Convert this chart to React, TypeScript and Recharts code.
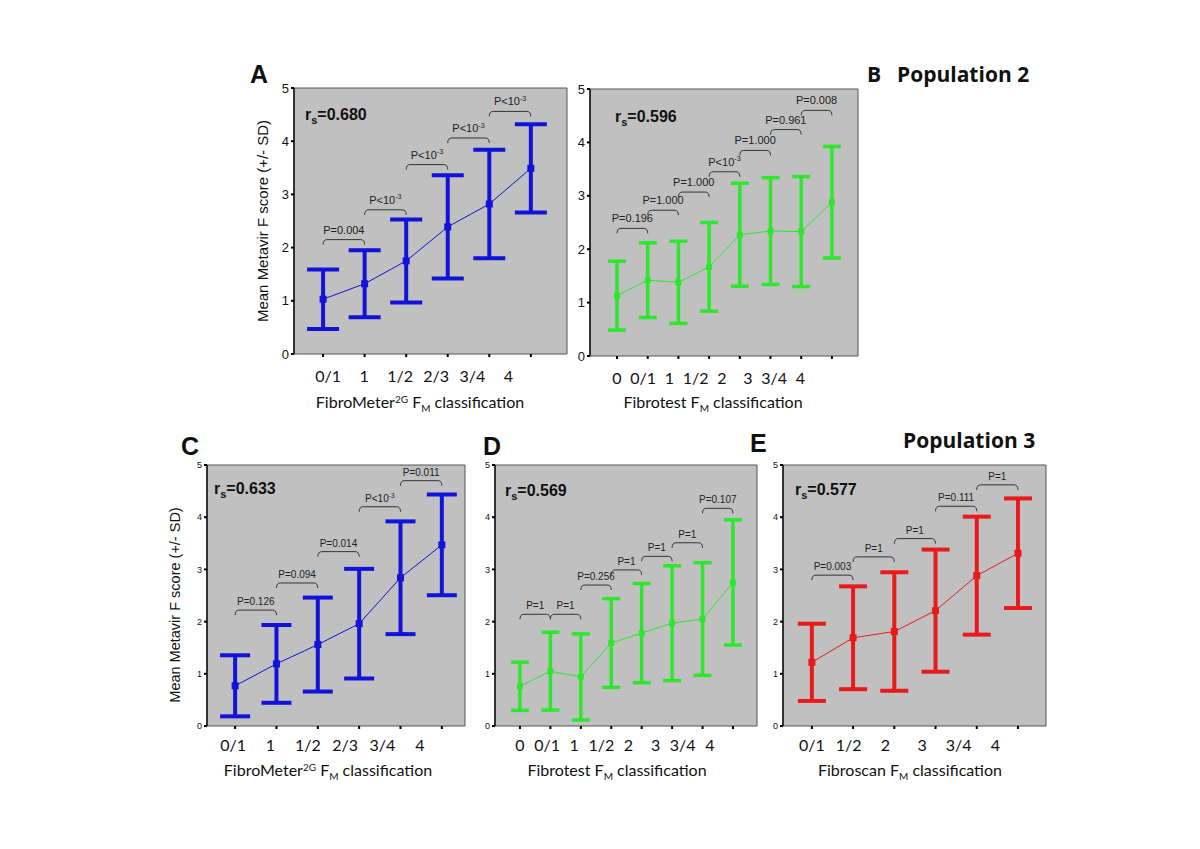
import React from 'react';
import { ComposedChart, Line, ErrorBar, XAxis, YAxis, CartesianGrid, ReferenceArea, ReferenceLine } from 'recharts';

// Population 2 - A: FibroMeter2G
const catsA = ['0/1', '1', '1/2', '2/3', '3/4', '4'];
const meanA = [1.03, 1.32, 1.75, 2.39, 2.82, 3.49];
const sdA = [0.56, 0.63, 0.78, 0.97, 1.02, 0.83];
const bracketA = [2.15, 2.71, 3.56, 4.06, 4.56];
const pA = ['P=0.004', 'P<10^-3', 'P<10^-3', 'P<10^-3', 'P<10^-3'];

// Population 2 - B: Fibrotest
const catsB = ['0', '0/1', '1', '1/2', '2', '3', '3/4', '4'];
const meanB = [1.13, 1.42, 1.38, 1.67, 2.27, 2.34, 2.33, 2.88];
const sdB = [0.645, 0.7, 0.77, 0.83, 0.965, 1.0, 1.03, 1.045];
const bracketB = [2.39, 2.73, 3.07, 3.45, 3.85, 4.24, 4.6];
const pB = ['P=0.196', 'P=1.000', 'P=1.000', 'P<10^-3', 'P=1.000', 'P=0.961', 'P=0.008'];

// Population 3 - C: FibroMeter2G
const catsC = ['0/1', '1', '1/2', '2/3', '3/4', '4'];
const meanC = [0.77, 1.19, 1.56, 1.96, 2.84, 3.47];
const sdC = [0.585, 0.745, 0.9, 1.05, 1.08, 0.965];
const bracketC = [2.22, 2.74, 3.34, 4.2, 4.7];
const pC = ['P=0.126', 'P=0.094', 'P=0.014', 'P<10^-3', 'P=0.011'];

// Population 3 - D: Fibrotest
const catsD = ['0', '0/1', '1', '1/2', '2', '3', '3/4', '4'];
const meanD = [0.76, 1.05, 0.94, 1.59, 1.78, 1.97, 2.05, 2.75];
const sdD = [0.46, 0.745, 0.825, 0.85, 0.95, 1.1, 1.08, 1.2];
const bracketD = [2.14, 2.14, 2.7, 2.99, 3.25, 3.51, 4.17];
const pD = ['P=1', 'P=1', 'P=0.256', 'P=1', 'P=1', 'P=1', 'P=0.107'];

// Population 3 - E: Fibroscan
const catsE = ['0/1', '1/2', '2', '3', '3/4', '4'];
const meanE = [1.22, 1.69, 1.81, 2.21, 2.88, 3.31];
const sdE = [0.74, 0.985, 1.135, 1.17, 1.13, 1.05];
const bracketE = [2.89, 3.24, 3.59, 4.21, 4.62];
const pE = ['P=0.003', 'P=1', 'P=1', 'P=0.111', 'P=1'];

const yTicks = [0, 1, 2, 3, 4, 5];

const BLUE = '#1212d8';
const GREEN = '#2ee62e';
const RED = '#e81a1a';
const ARIAL = '"Liberation Sans", Arial, sans-serif';
const CAL = 'Lato, "Open Sans", sans-serif';
const HEAD = '"Open Sans", Lato, sans-serif';

function PText({ x, y, text, size }: any) {
  const k = text.indexOf('^');
  if (k < 0) {
    return (
      <text x={x} y={y} textAnchor="middle" fontFamily={ARIAL} fontSize={size} fill="#222">
        {text}
      </text>
    );
  }
  return (
    <text x={x} y={y} textAnchor="middle" fontFamily={ARIAL} fontSize={size} fill="#222">
      <tspan>{text.slice(0, k)}</tspan>
      <tspan dy={-size * 0.4} fontSize={size * 0.65}>{text.slice(k + 1)}</tspan>
    </text>
  );
}

const bracketShape = (label: string, size: number, gap: number) => (props: any) => {
  const { x1, y1, x2 } = props;
  const h = 5;
  return (
    <g>
      <path
        d={`M${x1},${y1 + h} Q${x1},${y1} ${x1 + 4},${y1} L${x2 - 4},${y1} Q${x2},${y1} ${x2},${y1 + h}`}
        fill="none"
        stroke="#333"
        strokeWidth={1}
      />
      <PText x={(x1 + x2) / 2} y={y1 - gap} text={label} size={size} />
    </g>
  );
};

function Panel(props: any) {
  const { plot, domain, cats, means, sds, brackets, ps, color, capW, barW, markerSize, tickFont, yFont, tickDy, lblBase, lblStep, pFont, pGap } = props;
  const padL = 60, padT = 30, padR = 20, padB = 70;
  const w = plot.r - plot.l + padL + padR;
  const h = plot.b - plot.t + padT + padB;
  const data = cats.map((c: string, i: number) => ({ idx: i, mean: means[i], sd: sds[i] }));
  const ms = markerSize;

  const xTick = (tp: any) => {
    const i = tp.payload.value;
    return (
      <text x={tp.x + lblBase - i * lblStep} y={tp.y + tickDy} textAnchor="middle" fontFamily={CAL} fontSize={tickFont} fill="#111">
        {cats[i]}
      </text>
    );
  };

  return (
    <div style={{ position: 'absolute', left: plot.l - padL, top: plot.t - padT }}>
      <ComposedChart width={w} height={h} data={data} margin={{ top: padT, right: padR, left: padL - 30, bottom: padB - 30 }}>
        <CartesianGrid fill="#c0c0c0" fillOpacity={1} horizontal={false} vertical={false} />
        <XAxis
          type="number"
          dataKey="idx"
          domain={domain}
          ticks={cats.map((_: string, i: number) => i)}
          interval={0}
          allowDataOverflow
          height={30}
          axisLine={false}
          tickLine={{ stroke: '#000', strokeWidth: 2 }}
          tickSize={3}
          tick={xTick}
        />
        <YAxis
          type="number"
          domain={[0, 5]}
          ticks={yTicks}
          allowDataOverflow
          width={30}
          axisLine={{ stroke: '#111', strokeWidth: 1.5 }}
          tickLine={{ stroke: '#000', strokeWidth: 2 }}
          tickSize={3}
          tickMargin={2}
          tick={{ fontFamily: ARIAL, fontSize: yFont, fill: '#111' }}
        />
        <ReferenceArea x1={domain[0]} x2={domain[1]} y1={0} y2={5} fill="none" stroke="#555" strokeWidth={1} ifOverflow="visible" />
        {brackets.map((y: number, i: number) => (
          <ReferenceLine key={i} segment={[{ x: i, y }, { x: i + 1, y }]} ifOverflow="visible" shape={bracketShape(ps[i], pFont, pGap)} />
        ))}
        <Line
          dataKey="mean"
          stroke={color}
          strokeWidth={1}
          isAnimationActive={false}
          dot={(d: any) => <rect key={d.index} x={d.cx - ms / 2} y={d.cy - ms / 2} width={ms} height={ms} fill={color} />}
        >
          <ErrorBar dataKey="sd" direction="y" width={capW} strokeWidth={barW} stroke={color} />
        </Line>
      </ComposedChart>
    </div>
  );
}

function Rs({ x, y, v }: any) {
  return (
    <text x={x} y={y} fontFamily={ARIAL} fontWeight="bold" fontSize={16} fill="#111">
      <tspan>r</tspan>
      <tspan dy={4} fontSize={11}>s</tspan>
      <tspan dy={-4}>{v}</tspan>
    </text>
  );
}

function XTitle({ x, y, name, sup }: any) {
  return (
    <text x={x} y={y} textAnchor="middle" fontFamily={CAL} fontSize={16} fill="#111">
      <tspan>{name}</tspan>
      {sup ? <tspan dy={-5} fontSize={10}>{sup}</tspan> : null}
      <tspan dy={sup ? 5 : 0}> F</tspan>
      <tspan dy={4} fontSize={10}>M</tspan>
      <tspan dy={-4}> classification</tspan>
    </text>
  );
}

export default function App() {
  return (
    <div style={{ position: 'absolute', left: 0, top: 0, width: 1200, height: 849, background: '#fff', overflow: 'hidden' }}>
      <Panel plot={{ l: 294, t: 88, r: 567, b: 354 }} domain={[-0.7, 5.87]} cats={catsA} means={meanA} sds={sdA} brackets={bracketA} ps={pA}
        color={BLUE} capW={16} barW={4} markerSize={7} tickFont={16} yFont={13} tickDy={23} lblBase={5} lblStep={5.5} pFont={11} pGap={6} />
      <Panel plot={{ l: 590, t: 89, r: 858, b: 356 }} domain={[-0.88, 7.85]} cats={catsB} means={meanB} sds={sdB} brackets={bracketB} ps={pB}
        color={GREEN} capW={9} barW={3.5} markerSize={6} tickFont={16} yFont={13} tickDy={23} lblBase={0} lblStep={4.5} pFont={11} pGap={6} />
      <Panel plot={{ l: 207, t: 465, r: 465, b: 726 }} domain={[-0.68, 5.56]} cats={catsC} means={meanC} sds={sdC} brackets={bracketC} ps={pC}
        color={BLUE} capW={15} barW={4} markerSize={7} tickFont={16} yFont={9} tickDy={20} lblBase={-2} lblStep={4} pFont={10} pGap={5} />
      <Panel plot={{ l: 495, t: 465, r: 757, b: 726 }} domain={[-0.82, 7.79]} cats={catsD} means={meanD} sds={sdD} brackets={bracketD} ps={pD}
        color={GREEN} capW={9} barW={3.5} markerSize={6} tickFont={16} yFont={9} tickDy={20} lblBase={0} lblStep={3.3} pFont={10} pGap={5} />
      <Panel plot={{ l: 783, t: 465, r: 1046, b: 726 }} domain={[-0.7, 5.68]} cats={catsE} means={meanE} sds={sdE} brackets={bracketE} ps={pE}
        color={RED} capW={14} barW={4} markerSize={7} tickFont={16} yFont={9} tickDy={20} lblBase={0} lblStep={4.5} pFont={10} pGap={5} />

      <svg width={1200} height={849} style={{ position: 'absolute', left: 0, top: 0, pointerEvents: 'none' }}>
        <text x={250} y={83} fontFamily={ARIAL} fontWeight="bold" fontSize={25} fill="#111">A</text>
        <text x={867} y={82} fontFamily={HEAD} fontWeight="bold" fontSize={21} fill="#111">B</text>
        <text x={897} y={82} fontFamily={HEAD} fontWeight="bold" fontSize={21} fill="#111">Population 2</text>
        <text x={181} y={455} fontFamily={ARIAL} fontWeight="bold" fontSize={25} fill="#111">C</text>
        <text x={483} y={455} fontFamily={ARIAL} fontWeight="bold" fontSize={25} fill="#111">D</text>
        <text x={750} y={452} fontFamily={ARIAL} fontWeight="bold" fontSize={25} fill="#111">E</text>
        <text x={903} y={448} fontFamily={HEAD} fontWeight="bold" fontSize={21} fill="#111">Population 3</text>

        <Rs x={305} y={120} v="=0.680" />
        <Rs x={615} y={122} v="=0.596" />
        <Rs x={214} y={494} v="=0.633" />
        <Rs x={505} y={496} v="=0.569" />
        <Rs x={795} y={495} v="=0.577" />

        <text transform="translate(268,221) rotate(-90)" textAnchor="middle" fontFamily={ARIAL} fontSize={15} fill="#111">Mean Metavir F score (+/- SD)</text>
        <text transform="translate(180,605) rotate(-90)" textAnchor="middle" fontFamily={ARIAL} fontSize={14.5} fill="#111">Mean Metavir F score (+/- SD)</text>

        <XTitle x={420} y={408} name="FibroMeter" sup="2G" />
        <XTitle x={713} y={408} name="Fibrotest" />
        <XTitle x={328} y={776} name="FibroMeter" sup="2G" />
        <XTitle x={617} y={776} name="Fibrotest" />
        <XTitle x={910} y={776} name="Fibroscan" />
      </svg>
    </div>
  );
}
